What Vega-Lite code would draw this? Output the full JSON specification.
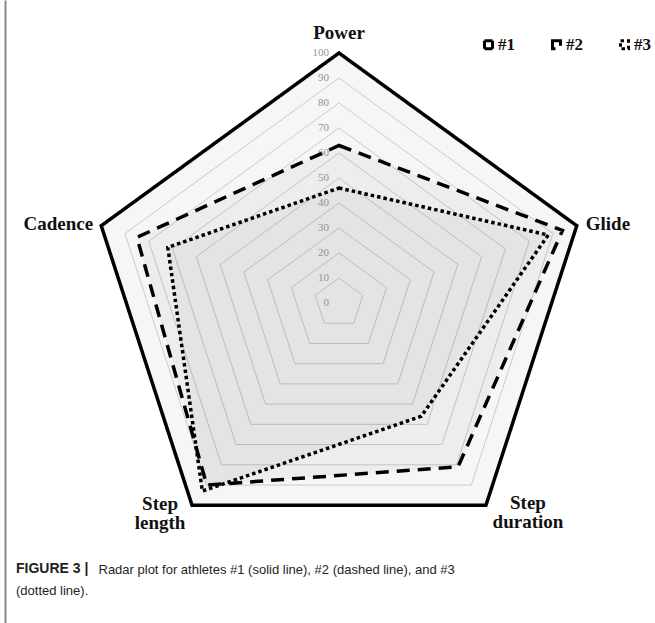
{
  "$schema": "https://vega.github.io/schema/vega-lite/v6.json",
  "width": 650,
  "height": 623,
  "autosize": {"type": "none"},
  "padding": {"left": 5, "top": 0, "right": 0, "bottom": 0},
  "background": "white",
  "config": {"view": {"stroke": null}},
  "title": {
    "text": "FIGURE 3 |",
    "subtitle": "(dotted line).",
    "orient": "bottom",
    "anchor": "start",
    "frame": "group",
    "baseline": "alphabetic",
    "offset": -50,
    "dx": 11,
    "font": "Liberation Sans",
    "fontSize": 14,
    "fontWeight": "bold",
    "color": "#231f20",
    "subtitleFont": "Liberation Sans",
    "subtitleFontSize": 13,
    "subtitleColor": "#231f20",
    "subtitlePadding": 8
  },
  "datasets": {
    "scores": [
      {"athlete": "#1", "axis": "Power", "k": 0, "value": 100},
      {"athlete": "#1", "axis": "Glide", "k": 1, "value": 100},
      {"athlete": "#1", "axis": "Step duration", "k": 2, "value": 100},
      {"athlete": "#1", "axis": "Step length", "k": 3, "value": 100},
      {"athlete": "#1", "axis": "Cadence", "k": 4, "value": 100},
      {"athlete": "#2", "axis": "Power", "k": 0, "value": 63},
      {"athlete": "#2", "axis": "Glide", "k": 1, "value": 94},
      {"athlete": "#2", "axis": "Step duration", "k": 2, "value": 81},
      {"athlete": "#2", "axis": "Step length", "k": 3, "value": 90},
      {"athlete": "#2", "axis": "Cadence", "k": 4, "value": 85},
      {"athlete": "#3", "axis": "Power", "k": 0, "value": 46},
      {"athlete": "#3", "axis": "Glide", "k": 1, "value": 88},
      {"athlete": "#3", "axis": "Step duration", "k": 2, "value": 56},
      {"athlete": "#3", "axis": "Step length", "k": 3, "value": 93},
      {"athlete": "#3", "axis": "Cadence", "k": 4, "value": 72}
    ],
    "rings": [
      {"level": 10, "k": [0, 1, 2, 3, 4]},
      {"level": 20, "k": [0, 1, 2, 3, 4]},
      {"level": 30, "k": [0, 1, 2, 3, 4]},
      {"level": 40, "k": [0, 1, 2, 3, 4]},
      {"level": 50, "k": [0, 1, 2, 3, 4]},
      {"level": 60, "k": [0, 1, 2, 3, 4]},
      {"level": 70, "k": [0, 1, 2, 3, 4]},
      {"level": 80, "k": [0, 1, 2, 3, 4]},
      {"level": 90, "k": [0, 1, 2, 3, 4]},
      {"level": 100, "k": [0, 1, 2, 3, 4]}
    ],
    "ticks": [
      {"level": 0}, {"level": 10}, {"level": 20}, {"level": 30}, {"level": 40},
      {"level": 50}, {"level": 60}, {"level": 70}, {"level": 80}, {"level": 90}, {"level": 100}
    ],
    "axes": [
      {"axis": "Power", "k": 0},
      {"axis": "Glide", "k": 1},
      {"axis": "Step duration", "k": 2},
      {"axis": "Step length", "k": 3},
      {"axis": "Cadence", "k": 4}
    ]
  },
  "encoding": {
    "x": {
      "field": "px",
      "type": "quantitative",
      "scale": {"domain": [-133.6, 126.4], "nice": false, "zero": false},
      "axis": {
        "orient": "bottom",
        "domain": false,
        "ticks": false,
        "labels": false,
        "grid": false,
        "title": "Radar plot for athletes #1 (solid line), #2 (dashed line), and #3",
        "titleX": 93,
        "titleY": -50,
        "titleAlign": "left",
        "titleAnchor": "start",
        "titleBaseline": "alphabetic",
        "titleFont": "Liberation Sans",
        "titleFontSize": 13,
        "titleFontWeight": "normal",
        "titleColor": "#231f20"
      }
    },
    "y": {
      "field": "py",
      "type": "quantitative",
      "scale": {"domain": [-128, 121.2], "nice": false, "zero": false},
      "axis": {
        "domain": true,
        "domainColor": "#8a8a8a",
        "domainWidth": 2,
        "ticks": false,
        "labels": false,
        "grid": false,
        "title": null
      }
    }
  },
  "layer": [
    {
      "data": {"name": "rings"},
      "transform": [
        {"flatten": ["k"]},
        {"calculate": "datum.k * 2 * PI / 5", "as": "ang"},
        {"calculate": "datum.level * sin(datum.ang)", "as": "px"},
        {"calculate": "datum.level * cos(datum.ang)", "as": "py"}
      ],
      "mark": {"type": "line", "interpolate": "linear-closed", "stroke": "#d3d3d3", "strokeWidth": 1},
      "encoding": {
        "detail": {"field": "level", "type": "nominal"},
        "order": {"field": "k", "type": "quantitative"}
      }
    },
    {
      "data": {"name": "scores"},
      "transform": [
        {"calculate": "datum.k * 2 * PI / 5", "as": "ang"},
        {"calculate": "datum.value * sin(datum.ang)", "as": "px"},
        {"calculate": "datum.value * cos(datum.ang)", "as": "py"}
      ],
      "mark": {"type": "line", "interpolate": "linear-closed", "fill": "#000000", "fillOpacity": 0.036, "strokeOpacity": 0},
      "encoding": {
        "detail": {"field": "athlete", "type": "nominal"},
        "order": {"field": "k", "type": "quantitative"}
      }
    },
    {
      "data": {"name": "ticks"},
      "transform": [
        {"calculate": "0", "as": "px"},
        {"calculate": "datum.level", "as": "py"}
      ],
      "mark": {"type": "text", "align": "right", "baseline": "middle", "dx": -10, "font": "Liberation Serif", "fontSize": 11, "color": "#939393"},
      "encoding": {"text": {"field": "level", "type": "quantitative"}}
    },
    {
      "data": {"name": "scores"},
      "transform": [
        {"calculate": "datum.k * 2 * PI / 5", "as": "ang"},
        {"calculate": "datum.value * sin(datum.ang)", "as": "px"},
        {"calculate": "datum.value * cos(datum.ang)", "as": "py"}
      ],
      "mark": {"type": "line", "interpolate": "linear-closed", "stroke": "#000000", "strokeWidth": 3.5, "strokeCap": "butt", "strokeJoin": "miter"},
      "encoding": {
        "detail": {"field": "athlete", "type": "nominal"},
        "order": {"field": "k", "type": "quantitative"},
        "strokeDash": {
          "field": "athlete",
          "type": "nominal",
          "scale": {"domain": ["#1", "#2", "#3"], "range": [[1, 0], [13, 8], [3.5, 3]]},
          "legend": {
            "orient": "none",
            "legendX": 475,
            "legendY": 36,
            "direction": "horizontal",
            "title": null,
            "symbolType": "square",
            "symbolSize": 64,
            "symbolStrokeWidth": 3,
            "symbolStrokeColor": "#000000",
            "symbolFillColor": "transparent",
            "labelFont": "Liberation Serif",
            "labelFontSize": 17,
            "labelFontWeight": "bold",
            "labelColor": "#111111",
            "labelOffset": 1,
            "columnPadding": 31
          }
        }
      }
    },
    {
      "data": {"name": "axes"},
      "transform": [
        {"filter": "datum.axis == 'Power'"},
        {"calculate": "100 * sin(datum.k * 2 * PI / 5)", "as": "px"},
        {"calculate": "100 * cos(datum.k * 2 * PI / 5)", "as": "py"}
      ],
      "mark": {"type": "text", "align": "center", "baseline": "alphabetic", "dy": -14, "font": "Liberation Serif", "fontSize": 19, "fontWeight": "bold", "color": "#111111"},
      "encoding": {"text": {"field": "axis", "type": "nominal"}}
    },
    {
      "data": {"name": "axes"},
      "transform": [
        {"filter": "datum.axis == 'Glide'"},
        {"calculate": "100 * sin(datum.k * 2 * PI / 5)", "as": "px"},
        {"calculate": "100 * cos(datum.k * 2 * PI / 5)", "as": "py"}
      ],
      "mark": {"type": "text", "align": "left", "baseline": "alphabetic", "dx": 9, "dy": 4, "font": "Liberation Serif", "fontSize": 19, "fontWeight": "bold", "color": "#111111"},
      "encoding": {"text": {"field": "axis", "type": "nominal"}}
    },
    {
      "data": {"name": "axes"},
      "transform": [
        {"filter": "datum.axis == 'Cadence'"},
        {"calculate": "100 * sin(datum.k * 2 * PI / 5)", "as": "px"},
        {"calculate": "100 * cos(datum.k * 2 * PI / 5)", "as": "py"}
      ],
      "mark": {"type": "text", "align": "right", "baseline": "alphabetic", "dx": -8, "dy": 4, "font": "Liberation Serif", "fontSize": 19, "fontWeight": "bold", "color": "#111111"},
      "encoding": {"text": {"field": "axis", "type": "nominal"}}
    },
    {
      "data": {"name": "axes"},
      "transform": [
        {"filter": "datum.axis == 'Step length'"},
        {"calculate": "100 * sin(datum.k * 2 * PI / 5)", "as": "px"},
        {"calculate": "100 * cos(datum.k * 2 * PI / 5)", "as": "py"}
      ],
      "mark": {"type": "text", "align": "center", "baseline": "alphabetic", "lineBreak": " ", "lineHeight": 19, "dx": -32, "dy": 5, "font": "Liberation Serif", "fontSize": 19, "fontWeight": "bold", "color": "#111111"},
      "encoding": {"text": {"field": "axis", "type": "nominal"}}
    },
    {
      "data": {"name": "axes"},
      "transform": [
        {"filter": "datum.axis == 'Step duration'"},
        {"calculate": "100 * sin(datum.k * 2 * PI / 5)", "as": "px"},
        {"calculate": "100 * cos(datum.k * 2 * PI / 5)", "as": "py"}
      ],
      "mark": {"type": "text", "align": "center", "baseline": "alphabetic", "lineBreak": " ", "lineHeight": 19, "dx": 42, "dy": 4, "font": "Liberation Serif", "fontSize": 19, "fontWeight": "bold", "color": "#111111"},
      "encoding": {"text": {"field": "axis", "type": "nominal"}}
    }
  ]
}
